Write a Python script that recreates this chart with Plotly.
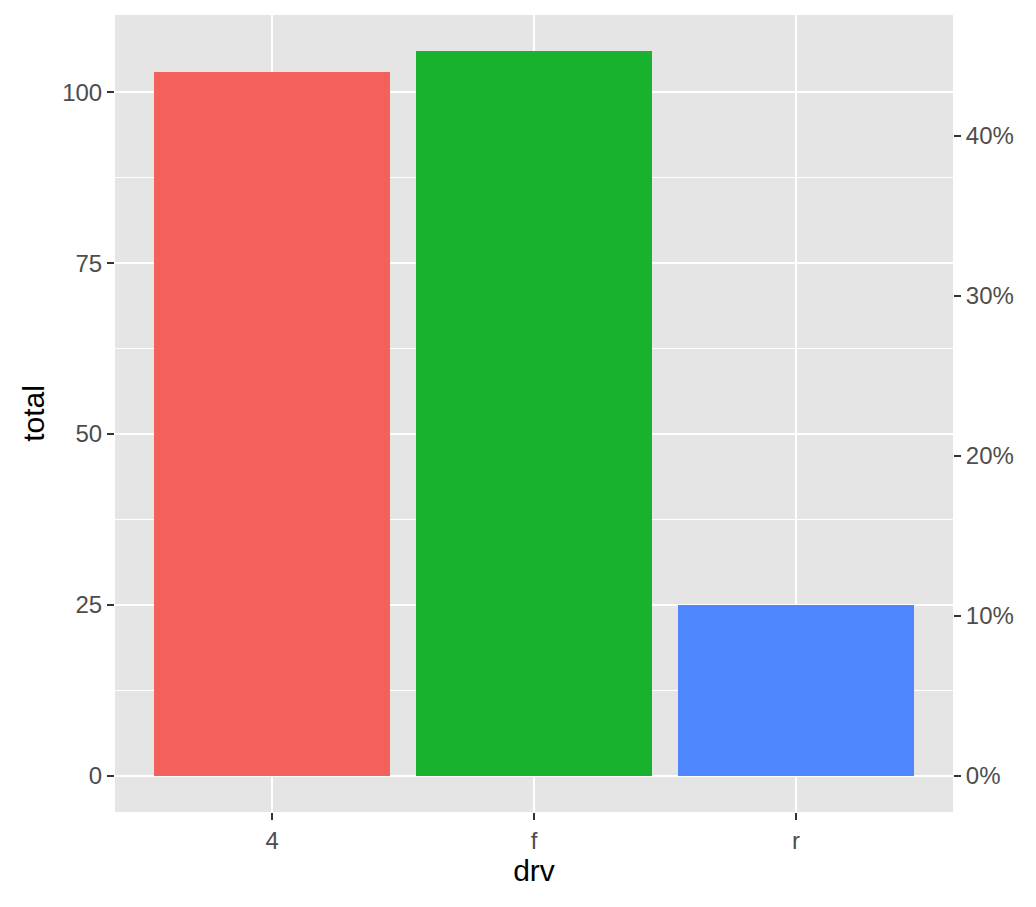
import plotly.graph_objects as go

categories = ["4", "f", "r"]
totals = [103, 106, 25]
bar_colors = ["#F4605A", "#19B22F", "#4F87FF"]

grand_total = sum(totals)
shares = [t / grand_total for t in totals]

ymax = max(totals)
lo, hi = -0.05 * ymax, 1.05 * ymax

fig = go.Figure()
fig.add_trace(go.Bar(
    x=[1, 2, 3], y=totals, marker=dict(color=bar_colors, line=dict(width=0)),
    width=0.9, showlegend=False, hoverinfo="x+y"
))
fig.add_trace(go.Scatter(
    x=[1, 2, 3], y=shares, yaxis="y2", mode="markers",
    marker=dict(opacity=0), showlegend=False, hoverinfo="skip"
))

font = "Liberation Sans, Arial, Helvetica, sans-serif"
tick_font = dict(size=24, color="#4D4D4D")
title_font = dict(size=30, color="black")
fig.update_layout(
    width=1036, height=907,
    margin=dict(l=107, r=91, t=7, b=103),
    plot_bgcolor="#E5E5E5", paper_bgcolor="white",
    font=dict(family=font, color="#4D4D4D", size=24),
    bargap=0,
    xaxis=dict(
        range=[0.4, 3.6], tickmode="array", tickvals=[1, 2, 3], ticktext=categories,
        showgrid=True, gridcolor="white", gridwidth=2.2, zeroline=False,
        ticks="outside", ticklen=7, tickwidth=2.2, tickcolor="#333333",
        tickfont=tick_font,
        title=dict(text="drv", font=title_font, standoff=6),
    ),
    yaxis=dict(
        range=[lo, hi], tickmode="linear", tick0=0, dtick=25,
        showgrid=True, gridcolor="white", gridwidth=2.2, zeroline=False,
        minor=dict(tickmode="linear", tick0=12.5, dtick=25, showgrid=True,
                   gridcolor="white", gridwidth=1.1, ticks=""),
        ticks="outside", ticklen=7, tickwidth=2.2, tickcolor="#333333",
        tickfont=tick_font,
        title=dict(text="total", font=title_font, standoff=8),
    ),
    yaxis2=dict(
        overlaying="y", side="right",
        range=[lo / grand_total, hi / grand_total], tickmode="linear", tick0=0, dtick=0.1,
        tickformat=".0%", showgrid=False, zeroline=False,
        ticks="outside", ticklen=7, tickwidth=2.2, tickcolor="#333333",
        tickfont=tick_font,
    ),
)

fig.write_html("out.html")
